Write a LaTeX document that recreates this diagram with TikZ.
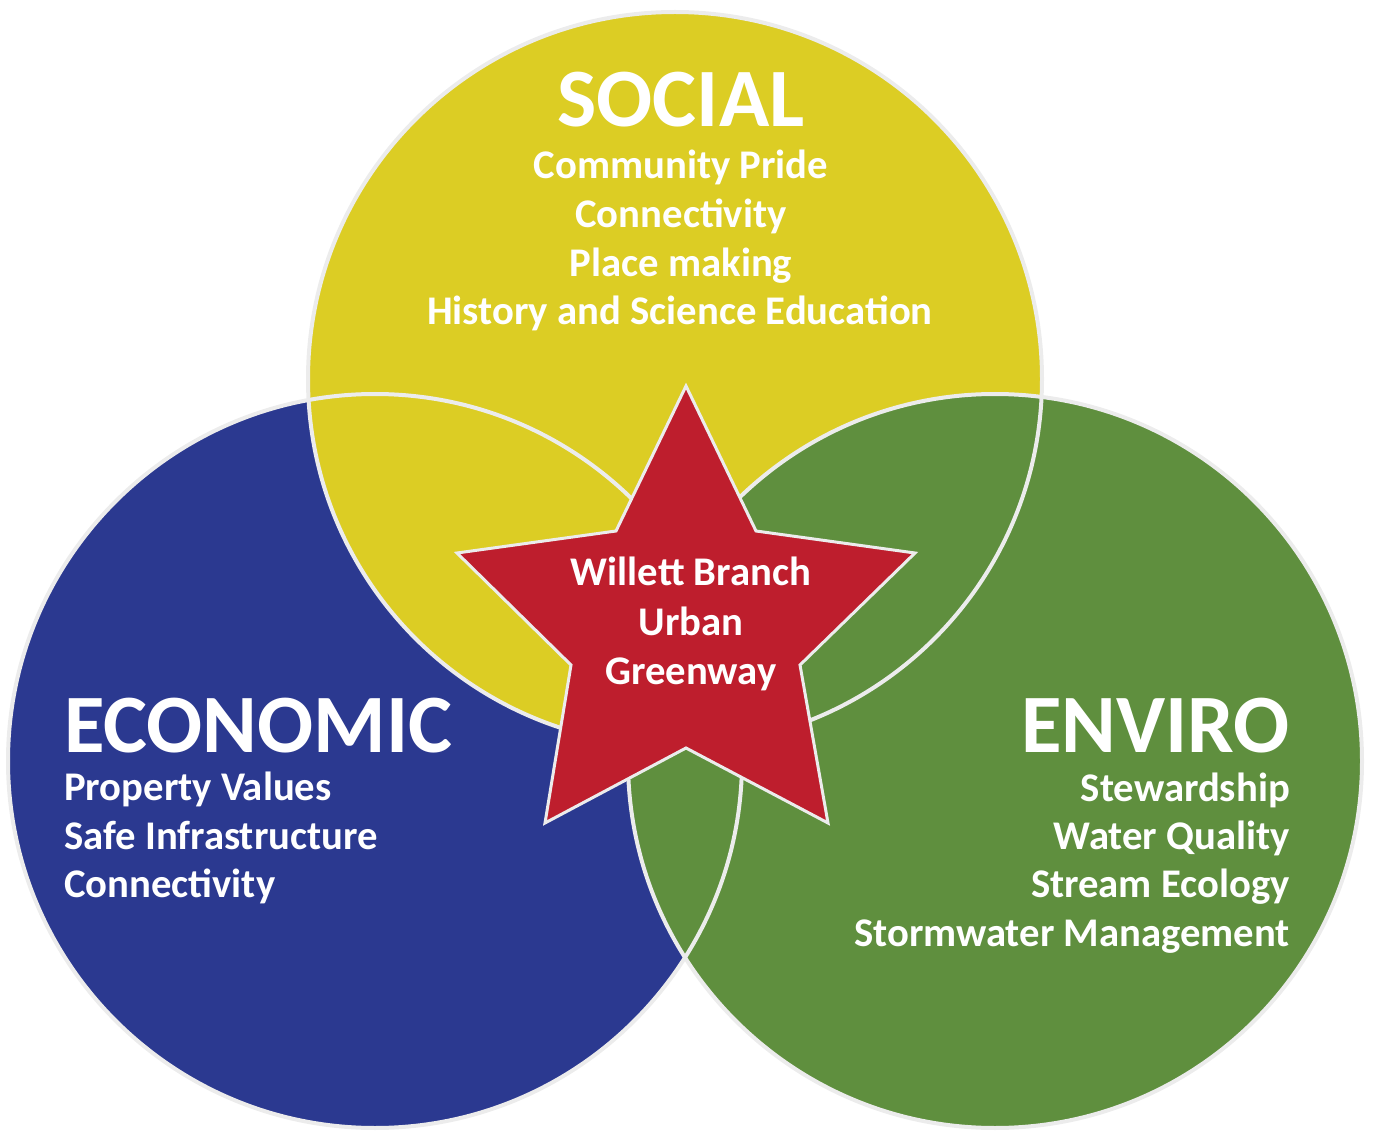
\documentclass[tikz,border=0pt]{standalone}
\usepackage{fontspec}
\setmainfont{Carlito}
\definecolor{socyel}{HTML}{DCCD24}
\definecolor{ecoblue}{HTML}{2B3990}
\definecolor{envgreen}{HTML}{5F8F3E}
\definecolor{starred}{HTML}{BE1E2D}
\definecolor{rimgray}{HTML}{ECECEC}
\tikzset{
  rim/.style={draw=rimgray, line width=4pt},
  head/.style={text=white, font=\bfseries\fontsize{83}{99}\selectfont, inner sep=0pt},
  item/.style={text=white, font=\bfseries\fontsize{40.7}{49}\selectfont, inner sep=0pt},
}
\begin{document}
\begin{tikzpicture}[x=1pt,y=-1pt]
\useasboundingbox (0,0) rectangle (1374,1131);
\coordinate (cy) at (675,379);
\coordinate (cb) at (375,761);
\coordinate (cg) at (995,761);
% fills
\fill[ecoblue] (cb) circle[radius=367pt];
\fill[socyel] (cy) circle[radius=367pt];
\fill[envgreen] (cg) circle[radius=367pt];
% outlines
\draw[rim] (cb) circle[radius=367pt];
\draw[rim] (cy) circle[radius=367pt];
\draw[rim] (cg) circle[radius=367pt];
% star
\draw[fill=starred, draw=rimgray, line width=3pt, line join=miter]
  (686,386) -- (756,531) -- (915,553) -- (800,665) -- (828,823) -- (686,748)
  -- (545,823) -- (571,665) -- (457,553) -- (616,531) -- cycle;
% star text
\node[item, anchor=base] (s1) at (691,585) {Willett Branch};
\node[item, anchor=base] (s2) at (691,635) {Urban};
\node[item, anchor=base] (s3) at (691,684) {Greenway};
% social
\node[head, anchor=base] (soc) at (681,127) {SOCIAL};
\node[item, anchor=base] (soc1) at (681,179) {Community Pride};
\node[item, anchor=base] (soc2) at (681,228) {Connectivity};
\node[item, anchor=base] (soc3) at (681,277) {Place making};
\node[item, anchor=base] (soc4) at (680,325) {History and Science Education};
% economic
\node[head, anchor=base west] (eco) at (64,752) {ECONOMIC};
\node[item, anchor=base west] (eco1) at (64,800) {Property Values};
\node[item, anchor=base west] (eco2) at (64,849) {Safe Infrastructure};
\node[item, anchor=base west] (eco3) at (64,897) {Connectivity};
% enviro
\node[head, anchor=base east] (env) at (1290,752) {ENVIRO};
\node[item, anchor=base east] (env1) at (1290,801) {Stewardship};
\node[item, anchor=base east] (env2) at (1290,849) {Water Quality};
\node[item, anchor=base east] (env3) at (1290,897) {Stream Ecology};
\node[item, anchor=base east] (env4) at (1290,946) {Stormwater Management};
\end{tikzpicture}
\end{document}
